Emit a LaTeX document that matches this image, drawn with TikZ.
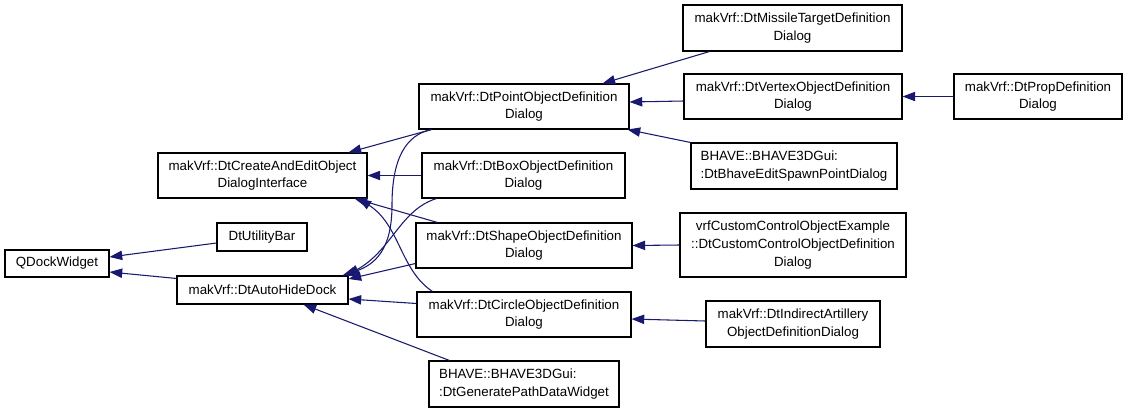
\documentclass[tikz,border=0pt]{standalone}
\usepackage{fontspec}
\setmainfont{Liberation Sans}
\usetikzlibrary{arrows.meta,calc}
\definecolor{edgeblue}{RGB}{25,25,112}
\begin{document}
\begin{tikzpicture}[x=0.75pt,y=-0.75pt,
  cls/.style={draw=black, line width=0.8pt, fill=white, inner sep=0pt,
    align=center, font=\fontsize{10}{13.3}\selectfont},
  clsl/.style={cls, align=left},
  edge/.style={draw=edgeblue, line width=0.8pt,
    -{Triangle[length=9.5pt,width=7pt]}}]
\useasboundingbox[fill=white] (0,0) rectangle (1128,412);

\node[cls, minimum width=78pt, minimum height=20.25pt] (qdock) at (57,263.5) {QDockWidget};
\node[cls, minimum width=67.5pt, minimum height=21pt] (util) at (262,237) {DtUtilityBar};
\node[cls, minimum width=156.75pt, minimum height=33.75pt] (create) at (262.5,175.5) {makVrf::DtCreateAndEditObject\\DialogInterface};
\node[cls, minimum width=128.25pt, minimum height=21pt] (autohide) at (262.5,290) {makVrf::DtAutoHideDock};
\node[cls, minimum width=157.5pt, minimum height=33.75pt] (point) at (524,106.5) {makVrf::DtPointObjectDefinition\\Dialog};
\node[cls, minimum width=152.25pt, minimum height=33.75pt] (box) at (523.5,175.5) {makVrf::DtBoxObjectDefinition\\Dialog};
\node[cls, minimum width=162pt, minimum height=33.75pt] (shape) at (524,245.5) {makVrf::DtShapeObjectDefinition\\Dialog};
\node[cls, minimum width=160.5pt, minimum height=33.75pt] (circle) at (524,314.5) {makVrf::DtCircleObjectDefinition\\Dialog};
\node[clsl, minimum width=142.5pt, minimum height=34.5pt] (gen) at (524,384) {BHAVE::BHAVE3DGui:\\:DtGeneratePathDataWidget};
\node[cls, minimum width=164.25pt, minimum height=34.5pt] (missile) at (792.5,28) {makVrf::DtMissileTargetDefinition\\Dialog};
\node[cls, minimum width=163.5pt, minimum height=33.75pt] (vertex) at (793,96.5) {makVrf::DtVertexObjectDefinition\\Dialog};
\node[cls, minimum width=126pt, minimum height=33.75pt] (prop) at (1038,96.5) {makVrf::DtPropDefinition\\Dialog};
\node[clsl, minimum width=154.5pt, minimum height=34.5pt] (spawn) at (794,166) {BHAVE::BHAVE3DGui:\\:DtBhaveEditSpawnPointDialog};
\node[cls, minimum width=169.5pt, minimum height=48pt] (custom) at (793,245) {vrfCustomControlObjectExample\\::DtCustomControlObjectDefinition\\Dialog};
\node[cls, minimum width=130.5pt, minimum height=34.5pt] (indirect) at (793,324) {makVrf::DtIndirectArtillery\\ObjectDefinitionDialog};

% edges
\draw[edge] ($(util.west)+(0,6)$) -- ($(qdock.east)+(0,-6.5)$);
\draw[edge] ($(autohide.north west)+(0,3)$) -- ($(qdock.east)+(0,8.5)$);
\draw[edge] ($(point.south west)+(13,0)$) -- ($(create.north east)+(-19,0)$);
\draw[edge] (box.west) -- (create.east);
\draw[edge] ($(shape.north west)+(22,0)$) -- ($(create.south east)+(-13,0)$);
\draw[edge] ($(circle.north west)+(16,0)$) .. controls (400,270) and (400,225) .. ($(create.south east)+(-9,0)$);
\draw[edge] ($(point.south west)+(13,0)$) .. controls (405,135) and (392,160) .. (392,205) .. controls (392,250) and (375,265) .. ($(autohide.north east)+(-6,0)$);
\draw[edge] ($(box.south west)+(15,0)$) .. controls (400,210) and (392,250) .. ($(autohide.north east)+(-2,0)$);
\draw[edge] ($(shape.west)+(0,18)$) -- ($(autohide.east)+(0,-11)$);
\draw[edge] ($(circle.west)+(0,-11)$) -- ($(autohide.east)+(0,9)$);
\draw[edge] ($(gen.north west)+(21,0)$) -- ($(autohide.south east)+(-45,0)$);
\draw[edge] ($(missile.south west)+(27,0)$) -- ($(point.north east)+(-27,0)$);
\draw[edge] ($(vertex.west)+(0,4.5)$) -- ($(point.east)+(0,-4.5)$);
\draw[edge] (spawn.north west) -- ($(point.south east)+(-2,0)$);
\draw[edge] (prop.west) -- (vertex.east);
\draw[edge] (custom.west) -- (shape.east);
\draw[edge] ($(indirect.west)+(0,-3)$) -- ($(circle.east)+(0,4.5)$);
\end{tikzpicture}
\end{document}
